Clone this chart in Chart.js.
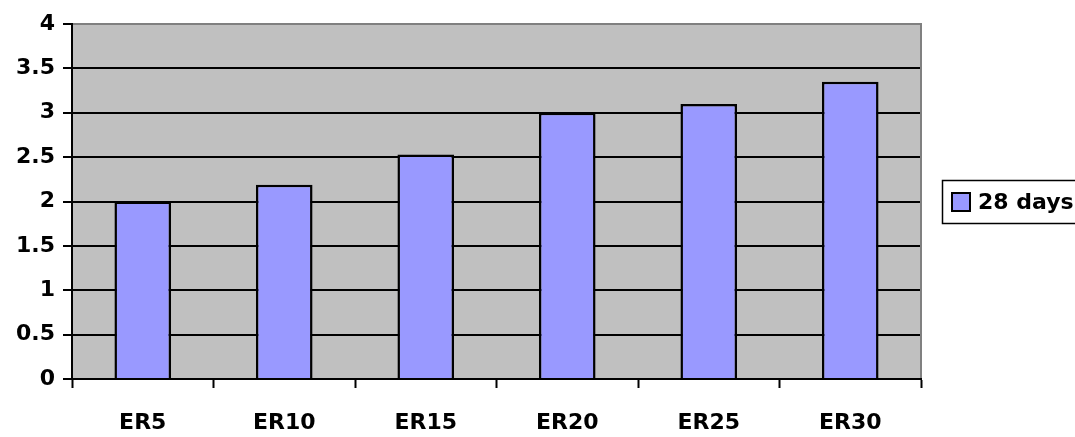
<!DOCTYPE html>
<html>
<head>
<meta charset="utf-8">
<script src="https://cdn.jsdelivr.net/npm/chart.js@4"></script>
<style>
  html, body { margin: 0; padding: 0; background: #ffffff; }
  #wrap { width: 1075px; height: 437px; }
</style>
</head>
<body>
<div id="wrap"><canvas id="chart" width="1075" height="437"></canvas></div>
<script>
// Categories and series
const categories = ['ER5', 'ER10', 'ER15', 'ER20', 'ER25', 'ER30'];
const seriesLabel = '28 days';
const seriesValues = [2.0, 2.19, 2.53, 3.0, 3.1, 3.35];

// Value axis
const yMin = 0;
const yMax = 4;
const yStep = 0.5;

const FONT = '"DejaVu Sans", "Liberation Sans", sans-serif';
const BAR_FILL = '#9999FF';
const PLOT_BG = '#C0C0C0';

// Grey plot background plus the grey frame on top/right
const plotFrame = {
  id: 'plotFrame',
  beforeDraw(chart) {
    const { ctx, chartArea: a } = chart;
    ctx.save();
    ctx.fillStyle = PLOT_BG;
    ctx.fillRect(a.left, a.top, a.right - a.left, a.bottom - a.top);
    ctx.restore();
  },
  beforeDatasetsDraw(chart) {
    const { ctx, chartArea: a } = chart;
    ctx.save();
    ctx.strokeStyle = '#808080';
    ctx.lineWidth = 2;
    ctx.beginPath();
    ctx.moveTo(a.left + 1, a.top);
    ctx.lineTo(a.right, a.top);
    ctx.lineTo(a.right, a.bottom - 1);
    ctx.stroke();
    ctx.restore();
  }
};

// Boxed legend on the right, built from the dataset itself
const sideLegend = {
  id: 'sideLegend',
  afterDraw(chart) {
    const { ctx } = chart;
    const ds = chart.data.datasets[0];
    const x = 942.5, y = 180.5, h = 43;
    ctx.save();
    ctx.fillStyle = '#ffffff';
    ctx.fillRect(x, y, 200, h);
    ctx.strokeStyle = '#000000';
    ctx.lineWidth = 1.5;
    ctx.strokeRect(x, y, 200, h);
    ctx.fillStyle = ds.backgroundColor;
    ctx.fillRect(952, 193, 18, 18);
    ctx.lineWidth = 2;
    ctx.strokeRect(952, 193, 18, 18);
    ctx.fillStyle = '#000000';
    ctx.font = 'bold 22px ' + FONT;
    ctx.textBaseline = 'middle';
    ctx.textAlign = 'left';
    ctx.fillText(ds.label, 978, 203);
    ctx.restore();
  }
};

new Chart(document.getElementById('chart'), {
  type: 'bar',
  data: {
    labels: categories,
    datasets: [{
      label: seriesLabel,
      data: seriesValues,
      backgroundColor: BAR_FILL,
      borderColor: '#000000',
      borderWidth: 2.5,
      barPercentage: 0.4,
      categoryPercentage: 1.0
    }]
  },
  options: {
    responsive: false,
    animation: false,
    layout: { padding: { top: 24, right: 154, left: 0, bottom: 0 } },
    plugins: {
      legend: { display: false },
      tooltip: { enabled: false }
    },
    scales: {
      x: {
        offset: true,
        afterFit(scale) { scale.height = 58; },
        grid: {
          offset: true,
          drawOnChartArea: false,
          drawTicks: true,
          tickLength: 9,
          tickColor: '#000000',
          tickWidth: 2
        },
        border: { display: true, color: '#000000', width: 2 },
        ticks: {
          color: '#000000',
          padding: 22,
          maxRotation: 0,
          font: { family: FONT, size: 22, weight: 'bold' }
        }
      },
      y: {
        min: yMin,
        max: yMax,
        afterFit(scale) { scale.width = 72; },
        grid: {
          color: '#000000',
          lineWidth: 2,
          drawTicks: true,
          tickLength: 9,
          tickColor: '#000000',
          tickWidth: 2
        },
        border: { display: true, color: '#000000', width: 2 },
        ticks: {
          stepSize: yStep,
          color: '#000000',
          padding: 8,
          font: { family: FONT, size: 22, weight: 'bold' },
          callback: (v) => String(v)
        }
      }
    }
  },
  plugins: [plotFrame, sideLegend]
});
</script>
</body>
</html>
